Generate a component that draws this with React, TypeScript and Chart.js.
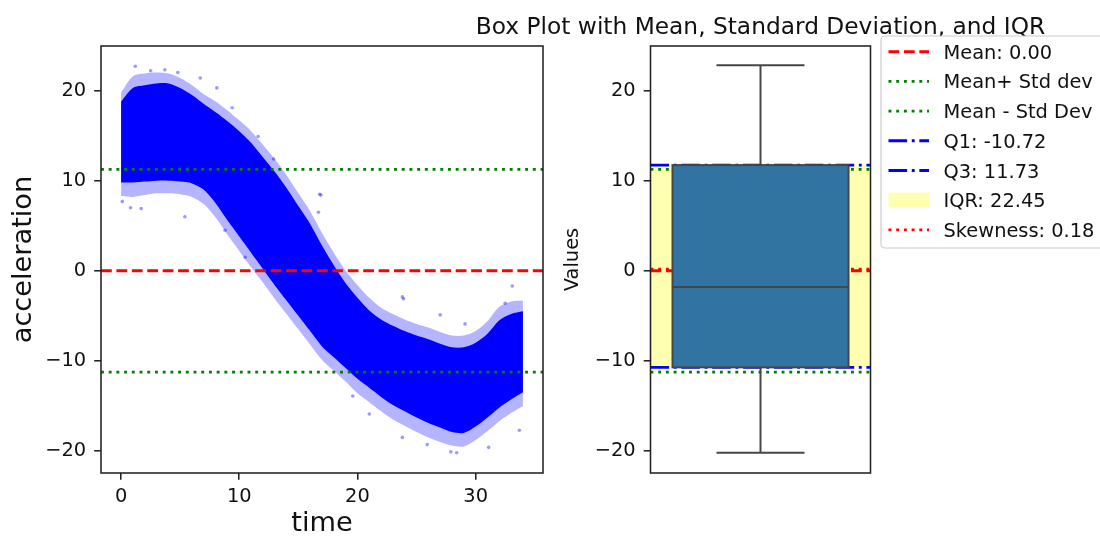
import React, { useEffect, useRef } from 'react';
import { Chart, registerables } from 'chart.js';

Chart.register(...registerables);

// ---------------- data ----------------
const timeSamples = [0, 1, 2, 3, 4, 5, 6, 7, 8, 9, 10, 11, 12, 13, 14, 15, 16, 17, 18, 19, 20, 21, 22, 23, 24, 25, 26, 27, 28, 29, 30, 31, 32, 33, 34];
// dense core of the scatter cloud (upper / lower edge)
const bandUpper = [18.8, 20.3, 20.6, 20.8, 20.8, 20.3, 19.5, 18.5, 17.6, 16.6, 15.5, 14.2, 12.6, 11.0, 9.2, 7.2, 5.2, 2.8, 0.6, -1.4, -3.0, -4.4, -5.4, -6.1, -6.7, -7.2, -7.6, -8.1, -8.5, -8.5, -8.0, -7.0, -5.5, -4.8, -4.5];
const bandLower = [9.8, 9.8, 9.9, 10.0, 10.0, 9.9, 9.7, 9.0, 7.5, 5.6, 3.8, 2.0, 0.2, -1.6, -3.3, -5.0, -6.7, -8.4, -9.6, -10.8, -12.0, -13.0, -14.0, -14.9, -15.6, -16.3, -16.9, -17.4, -17.9, -18.0, -17.3, -16.3, -15.2, -14.3, -13.5];
// sparse, semi-transparent fringe of the cloud
const fringeUpper = [19.8, 21.6, 21.9, 22.0, 21.9, 21.4, 20.6, 19.6, 18.8, 17.8, 16.7, 15.5, 14.0, 12.4, 10.6, 8.6, 6.6, 4.2, 2.0, 0.0, -1.6, -3.0, -4.1, -4.8, -5.4, -5.9, -6.3, -6.8, -7.2, -7.2, -6.7, -5.6, -4.0, -3.4, -3.3];
const fringeLower = [8.3, 8.2, 8.4, 8.6, 8.6, 8.5, 8.2, 7.4, 5.9, 4.0, 2.2, 0.4, -1.3, -3.1, -4.8, -6.5, -8.2, -9.9, -11.1, -12.3, -13.6, -14.6, -15.6, -16.5, -17.2, -17.9, -18.5, -19.0, -19.4, -19.5, -18.8, -17.8, -16.7, -15.8, -15.0];
// isolated points outside the cloud
const outlierTime = [1.2, 2.5, 3.7, 4.8, 6.7, 8.1, 9.4, 11.6, 12.9, 16.8, 16.9, 16.7, 5.4, 0.8, 1.7, 0.1, 8.8, 10.5, 23.8, 27.0, 33.1, 32.5, 29.1, 23.9, 19.6, 21.0, 23.8, 25.9, 27.9, 28.4, 31.1, 33.7];
const outlierAccel = [22.7, 22.2, 22.3, 22.0, 21.4, 20.3, 18.1, 14.9, 12.4, 8.5, 8.4, 6.5, 6.0, 7.0, 6.9, 7.7, 4.5, 1.5, -2.9, -4.9, -1.7, -3.6, -5.9, -3.1, -13.9, -15.9, -18.5, -19.3, -20.1, -20.2, -19.6, -17.7];

const xTicks = [0, 10, 20, 30];
const yTicks = [-20, -10, 0, 10, 20];
const xLimits = [-1.7, 35.7];
const yLimits = [-22.45, 24.95];

const meanValue = 0.0;
const stdValue = 11.25;
const q1Value = -10.72;
const q3Value = 11.73;
const medianValue = -1.8;
const whiskerLow = -20.2;
const whiskerHigh = 22.8;
const skewValue = 0.18;
const boxCategories = [''];

const titleText = 'Box Plot with Mean, Standard Deviation, and IQR';

// ---------------- styles ----------------
const FONT = "'DejaVu Sans', 'Liberation Sans', sans-serif";
const TEXT = '#111111';
const SPINE = '#222222';
const PT = 1.94;
const LW = 1.5 * PT;
const DASHED = [3.7 * LW, 1.6 * LW];
const DOTTED = [1 * LW, 1.65 * LW];
const DASHDOT = [6.4 * LW, 1.6 * LW, 1 * LW, 1.6 * LW];
const TICK_SIZE = 19.4;
const BOX_FACE = '#3274a1';
const BOX_LINE = '#464646';

const fmtTick = (v: any) => String(v).replace('-', '\u2212');

const framePlugin = {
  id: 'frame',
  afterDraw(chart: any) {
    const { ctx, chartArea: a } = chart;
    ctx.save();
    ctx.setLineDash([]);
    ctx.strokeStyle = SPINE;
    ctx.lineWidth = 0.8 * PT;
    ctx.strokeRect(a.left, a.top, a.right - a.left, a.bottom - a.top);
    ctx.restore();
  },
};

const boxPlugin = {
  id: 'boxExtras',
  afterDatasetsDraw(chart: any) {
    const idx = chart.data.datasets.findIndex((d: any) => d.isBox);
    if (idx < 0) return;
    const el = chart.getDatasetMeta(idx).data[0];
    if (!el) return;
    const { x, width } = el.getProps(['x', 'width'], true);
    const ys = chart.scales.y;
    const half = width / 2;
    const { ctx } = chart;
    ctx.save();
    ctx.setLineDash([]);
    ctx.strokeStyle = BOX_LINE;
    ctx.lineWidth = 2;
    const seg = (x0: number, y0: number, x1: number, y1: number) => {
      ctx.beginPath();
      ctx.moveTo(x0, y0);
      ctx.lineTo(x1, y1);
      ctx.stroke();
    };
    const pQ1 = ys.getPixelForValue(q1Value);
    const pQ3 = ys.getPixelForValue(q3Value);
    const pHi = ys.getPixelForValue(whiskerHigh);
    const pLo = ys.getPixelForValue(whiskerLow);
    const pMed = ys.getPixelForValue(medianValue);
    seg(x, pQ3, x, pHi);
    seg(x, pQ1, x, pLo);
    seg(x - half / 2, pHi, x + half / 2, pHi);
    seg(x - half / 2, pLo, x + half / 2, pLo);
    seg(x - half, pMed, x + half, pMed);
    ctx.strokeRect(x - half, pQ3, width, pQ1 - pQ3);
    ctx.restore();
  },
};

const annotatePlugin = {
  id: 'annotate',
  afterDraw(chart: any) {
    const { ctx, chartArea: a } = chart;
    ctx.save();
    ctx.setLineDash([]);
    // title
    ctx.font = `23.3px ${FONT}`;
    ctx.fillStyle = TEXT;
    ctx.textAlign = 'center';
    ctx.textBaseline = 'alphabetic';
    ctx.fillText(titleText, (a.left + a.right) / 2, a.top - 12.5);
    // legend frame
    const lx = a.right + 10.5;
    const ly = a.top - 10;
    const lw = 240;
    const lh = 212;
    ctx.beginPath();
    ctx.roundRect(lx, ly, lw, lh, 4);
    ctx.fillStyle = 'rgba(255,255,255,0.8)';
    ctx.fill();
    ctx.strokeStyle = '#cccccc';
    ctx.lineWidth = 1.2;
    ctx.stroke();
    // entries
    const items = chart.data.datasets.filter((d: any) => d.label);
    const hx0 = lx + 7.5;
    const hx1 = lx + 48;
    const tx = lx + 62.5;
    ctx.font = `${TICK_SIZE}px ${FONT}`;
    ctx.textAlign = 'left';
    items.forEach((d: any, i: number) => {
      const cy = ly + 15.7 + i * 29.7;
      if (d.type === 'bar') {
        ctx.fillStyle = d.backgroundColor;
        ctx.fillRect(hx0, cy - 7.5, hx1 - hx0 + 1, 15);
      } else {
        ctx.beginPath();
        ctx.setLineDash(d.borderDash || []);
        ctx.strokeStyle = d.borderColor;
        ctx.lineWidth = d.borderWidth;
        ctx.lineCap = 'butt';
        ctx.moveTo(hx0, cy);
        ctx.lineTo(hx1, cy);
        ctx.stroke();
        ctx.setLineDash([]);
      }
      ctx.fillStyle = TEXT;
      ctx.fillText(d.label, tx, cy + 7);
    });
    ctx.restore();
  },
};

const tickFont = { family: FONT, size: TICK_SIZE };
const gridOpts = { display: true, drawOnChartArea: false, drawTicks: true, tickLength: 3.5 * PT, lineWidth: 0.8 * PT, color: SPINE };

const hLine = (v: number, x0: number, x1: number) => [{ x: x0, y: v }, { x: x1, y: v }];

function leftConfig(): any {
  const pts = (arr: number[]) => timeSamples.map((t, i) => ({ x: t, y: arr[i] }));
  const outliers = outlierTime.map((t, i) => ({ x: t, y: outlierAccel[i] }));
  const lineBase = { type: 'line', pointRadius: 0, fill: false, borderCapStyle: 'butt', borderWidth: LW };
  return {
    type: 'scatter',
    data: {
      datasets: [
        { type: 'line', data: pts(fringeUpper), fill: '+1', backgroundColor: 'rgba(30,30,255,0.33)', borderColor: 'transparent', borderWidth: 0, pointRadius: 0, tension: 0.3, order: 40 },
        { type: 'line', data: pts(fringeLower), fill: false, borderColor: 'transparent', borderWidth: 0, pointRadius: 0, tension: 0.3, order: 40 },
        { type: 'line', data: pts(bandUpper), fill: '+1', backgroundColor: '#0000ff', borderColor: 'transparent', borderWidth: 0, pointRadius: 0, tension: 0.3, order: 30 },
        { type: 'line', data: pts(bandLower), fill: false, borderColor: 'transparent', borderWidth: 0, pointRadius: 0, tension: 0.3, order: 30 },
        { type: 'scatter', data: outliers, pointRadius: 1.8, backgroundColor: 'rgba(0,0,255,0.4)', borderWidth: 0, order: 20 },
        { ...lineBase, data: hLine(meanValue, xLimits[0], xLimits[1]), borderColor: '#ff0000', borderDash: DASHED, order: 3 },
        { ...lineBase, data: hLine(meanValue + stdValue, xLimits[0], xLimits[1]), borderColor: '#008000', borderDash: DOTTED, order: 2 },
        { ...lineBase, data: hLine(meanValue - stdValue, xLimits[0], xLimits[1]), borderColor: '#008000', borderDash: DOTTED, order: 1 },
      ],
    },
    options: {
      animation: false,
      responsive: false,
      devicePixelRatio: 1,
      events: [],
      layout: { padding: { left: 0, top: 46, right: 557, bottom: 0 } },
      plugins: { legend: { display: false }, tooltip: { enabled: false }, title: { display: false } },
      scales: {
        x: {
          type: 'linear',
          min: xLimits[0],
          max: xLimits[1],
          offset: false,
          afterBuildTicks: (s: any) => { s.ticks = xTicks.map((v) => ({ value: v })); },
          afterFit: (s: any) => { s.height = 65; },
          grid: gridOpts,
          border: { display: false },
          ticks: { font: tickFont, color: TEXT, padding: 6, maxRotation: 0, autoSkip: false, callback: fmtTick },
          title: { display: true, text: 'time', color: TEXT, font: { family: FONT, size: 27.2, lineHeight: 1 }, padding: { top: 0, bottom: 0 } },
        },
        y: {
          type: 'linear',
          min: yLimits[0],
          max: yLimits[1],
          afterBuildTicks: (s: any) => { s.ticks = yTicks.map((v) => ({ value: v })); },
          afterFit: (s: any) => { s.width = 101; },
          grid: gridOpts,
          border: { display: false },
          ticks: { font: tickFont, color: TEXT, padding: 8, autoSkip: false, callback: fmtTick },
          title: { display: true, text: 'acceleration', color: TEXT, font: { family: FONT, size: 27.2, lineHeight: 1 }, padding: { top: 10.4, bottom: 0 } },
        },
      },
    },
    plugins: [framePlugin],
  };
}

function rightConfig(): any {
  const lineBase = { type: 'line', xAxisID: 'xl', pointRadius: 0, fill: false, borderCapStyle: 'butt', borderWidth: LW };
  return {
    type: 'bar',
    data: {
      labels: boxCategories,
      datasets: [
        { ...lineBase, label: `Mean: ${meanValue.toFixed(2)}`, data: hLine(meanValue, -0.5, 0.5), borderColor: '#ff0000', borderDash: DASHED, order: 8 },
        { ...lineBase, label: 'Mean+ Std dev', data: hLine(meanValue + stdValue, -0.5, 0.5), borderColor: '#008000', borderDash: DOTTED, order: 7 },
        { ...lineBase, label: 'Mean - Std Dev', data: hLine(meanValue - stdValue, -0.5, 0.5), borderColor: '#008000', borderDash: DOTTED, order: 6 },
        { ...lineBase, label: `Q1: ${q1Value.toFixed(2)}`, data: hLine(q1Value, -0.5, 0.5), borderColor: '#0000ff', borderDash: DASHDOT, order: 5 },
        { ...lineBase, label: `Q3: ${q3Value.toFixed(2)}`, data: hLine(q3Value, -0.5, 0.5), borderColor: '#0000ff', borderDash: DASHDOT, order: 4 },
        { type: 'bar', label: `IQR: ${(q3Value - q1Value).toFixed(2)}`, data: [[q1Value, q3Value]], backgroundColor: 'rgba(255,255,0,0.3)', borderWidth: 0, barPercentage: 1, categoryPercentage: 1, grouped: false, order: 10 },
        { ...lineBase, label: `Skewness: ${skewValue.toFixed(2)}`, data: hLine(skewValue, -0.5, 0.5), borderColor: '#ff0000', borderDash: DOTTED, order: 3 },
        { type: 'bar', label: '', isBox: true, data: [[q1Value, q3Value]], backgroundColor: BOX_FACE, borderWidth: 0, barPercentage: 0.8, categoryPercentage: 1, grouped: false, order: 1 },
      ],
    },
    options: {
      animation: false,
      responsive: false,
      devicePixelRatio: 1,
      events: [],
      layout: { padding: { left: 560, top: 46, right: 229.5, bottom: 65 } },
      plugins: { legend: { display: false }, tooltip: { enabled: false }, title: { display: false } },
      scales: {
        x: { type: 'category', display: false, offset: true },
        xl: { type: 'linear', display: false, min: -0.5, max: 0.5, offset: false, grid: { offset: false } },
        y: {
          type: 'linear',
          min: yLimits[0],
          max: yLimits[1],
          afterBuildTicks: (s: any) => { s.ticks = yTicks.map((v) => ({ value: v })); },
          afterFit: (s: any) => { s.width = 90.5; },
          grid: gridOpts,
          border: { display: false },
          ticks: { font: tickFont, color: TEXT, padding: 8, autoSkip: false, callback: fmtTick },
          title: { display: true, text: 'Values', color: TEXT, font: { family: FONT, size: TICK_SIZE, lineHeight: 1 }, padding: { top: 3.6, bottom: 0 } },
        },
      },
    },
    plugins: [boxPlugin, framePlugin, annotatePlugin],
  };
}

export default function App() {
  const ref1 = useRef<HTMLCanvasElement>(null);
  const ref2 = useRef<HTMLCanvasElement>(null);
  useEffect(() => {
    const c1 = new Chart(ref1.current as HTMLCanvasElement, leftConfig());
    const c2 = new Chart(ref2.current as HTMLCanvasElement, rightConfig());
    return () => {
      c1.destroy();
      c2.destroy();
    };
  }, []);
  const cs: React.CSSProperties = { position: 'absolute', left: 0, top: 0, width: 1100, height: 538 };
  return (
    <div style={{ position: 'fixed', left: 0, top: 0, width: 1100, height: 538, background: '#ffffff', overflow: 'hidden' }}>
      <canvas ref={ref1} width={1100} height={538} style={cs} />
      <canvas ref={ref2} width={1100} height={538} style={cs} />
    </div>
  );
}
